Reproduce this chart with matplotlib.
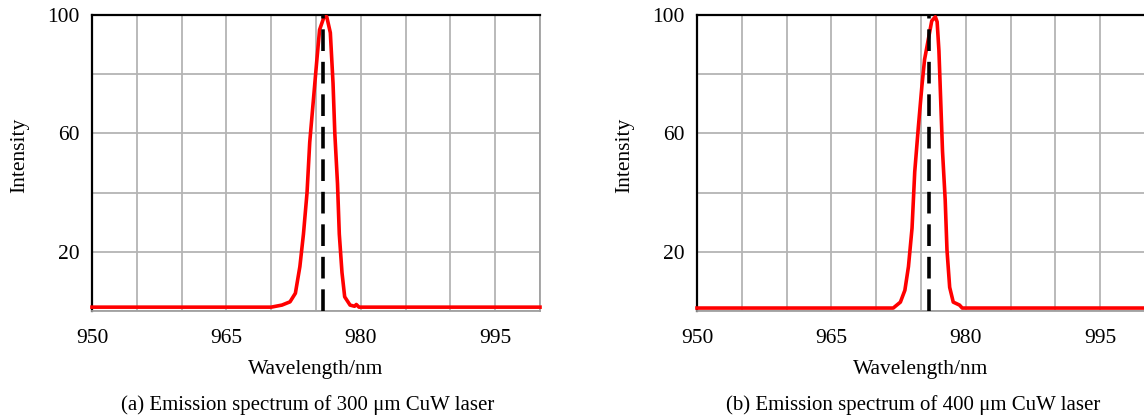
import matplotlib.pyplot as plt
import numpy as np

plt.rcParams["font.family"] = ["Liberation Serif", "DejaVu Serif"]

# emission spectra, intensity in % of peak
wl_300 = [950.0, 970.0, 971.2, 972.1, 972.7, 973.2, 973.6, 974.0, 974.3, 974.7,
          975.1, 975.4, 975.9, 976.2, 976.6, 976.9, 977.1, 977.4, 977.6, 977.9,
          978.2, 978.8, 979.3, 979.5, 979.8, 1000.0]
int_300 = [1.3, 1.3, 2.0, 3.1, 6.0, 15.0, 26.0, 40.0, 57.0, 71.0,
           85.0, 95.0, 99.4, 99.4, 94.0, 77.0, 60.0, 43.0, 26.0, 13.0,
           4.8, 2.0, 1.6, 2.2, 1.3, 1.3]

wl_400 = [950.0, 971.0, 971.9, 972.7, 973.2, 973.6, 974.0, 974.3, 974.7, 975.1,
          975.4, 975.8, 976.2, 976.6, 976.8, 977.0, 977.2, 977.4, 977.7, 977.9,
          978.2, 978.6, 979.3, 979.6, 1000.0]
int_400 = [1.0, 1.0, 1.0, 3.0, 7.0, 15.0, 28.0, 47.0, 62.0, 76.0,
           85.0, 91.5, 98.0, 99.4, 97.7, 88.0, 71.0, 54.0, 37.5, 20.6,
           8.0, 3.0, 2.0, 1.0, 1.0]

centre = [975.8, 975.9]
captions = ["(a) Emission spectrum of 300 \u03bcm CuW laser",
            "(b) Emission spectrum of 400 \u03bcm CuW laser"]
spectra = [(wl_300, int_300), (wl_400, int_400)]

W, H = 1144, 419
fig = plt.figure(figsize=(W / 100, H / 100), dpi=100)

lefts = [92, 697]
for i, (wl, inten) in enumerate(spectra):
    ax = fig.add_axes([lefts[i] / W, (H - 311) / H, 448 / W, 296 / H])
    ax.set_xlim(950, 1000)
    ax.set_ylim(0, 100)
    ax.set_xticks(np.arange(950, 1001, 5), minor=True)
    ax.set_xticks([950, 965, 980, 995])
    ax.set_yticks(np.arange(0, 101, 20), minor=True)
    ax.set_yticks([20, 60, 100])
    ax.grid(which="both", color="#b4b4b4", linewidth=1.3)
    ax.set_axisbelow(True)
    ax.tick_params(which="both", length=0, labelsize=15.5)
    ax.tick_params(axis="x", pad=13)
    ax.tick_params(axis="y", pad=9)
    for side in ["left", "top"]:
        ax.spines[side].set_color("black")
        ax.spines[side].set_linewidth(1.6)
    for side in ["right", "bottom"]:
        ax.spines[side].set_color("#a0a0a0")
        ax.spines[side].set_linewidth(1.3)

    ax.plot(wl, inten, color="red", linewidth=2.6, clip_on=False, zorder=3)
    ax.axvline(centre[i], color="black", linewidth=2.6,
               linestyle=(0, (6, 3)), zorder=4)

    ax.set_xlabel("Wavelength/nm", fontsize=15.5)
    ax.xaxis.set_label_coords(0.5, -0.165)
    ax.set_ylabel("Intensity", fontsize=15.5)
    ax.yaxis.set_label_coords(-0.14, 0.527)
    fig.text((lefts[i] + 216) / W, 1 - 405 / H, captions[i],
             ha="center", va="center", fontsize=15)

fig.savefig("out.png", dpi=100)
